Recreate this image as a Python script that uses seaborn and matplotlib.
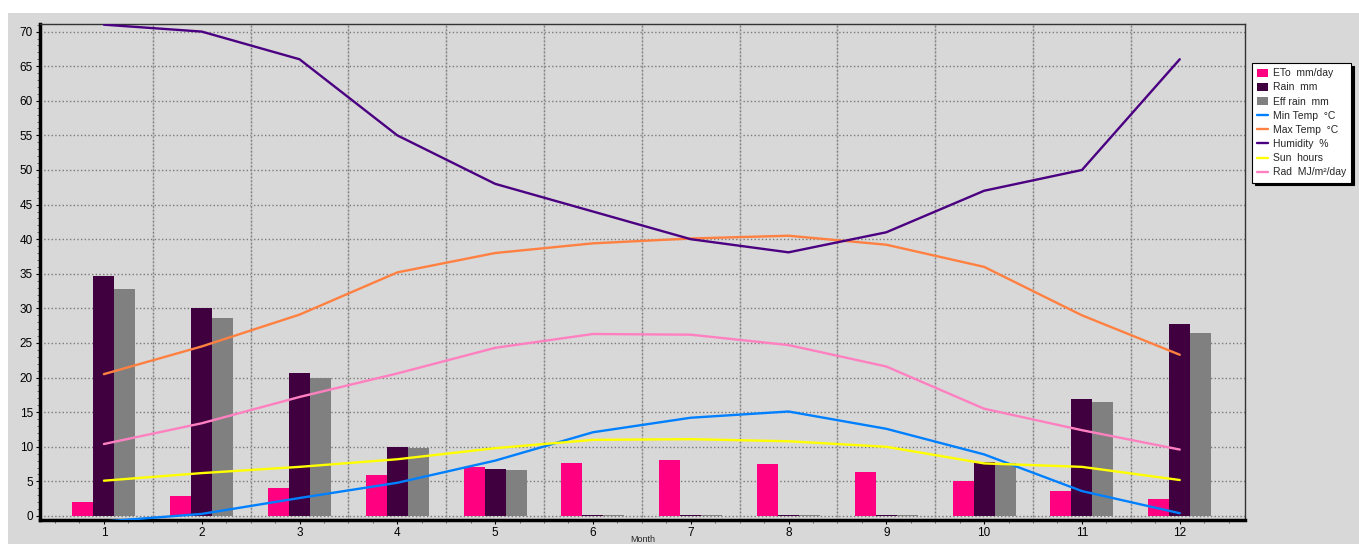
import numpy as np
import pandas as pd
import matplotlib
matplotlib.use("Agg")
import matplotlib.pyplot as plt
from matplotlib.patches import Patch, Rectangle
from matplotlib.lines import Line2D
from matplotlib.ticker import MultipleLocator
import seaborn as sns

# ---- monthly climate data ----
months = [str(m) for m in range(1, 13)]
eto = [2.0, 2.9, 4.0, 5.9, 7.1, 7.7, 8.1, 7.5, 6.4, 5.0, 3.6, 2.5]
rain = [34.7, 30.1, 20.7, 10.0, 6.8, 0.2, 0.2, 0.2, 0.2, 7.8, 16.9, 27.7]
eff_rain = [32.8, 28.6, 19.9, 9.8, 6.6, 0.2, 0.2, 0.2, 0.2, 7.6, 16.5, 26.4]
min_temp = [-0.8, 0.3, 2.6, 4.8, 8.0, 12.1, 14.2, 15.1, 12.6, 8.9, 3.6, 0.4]
max_temp = [20.5, 24.5, 29.1, 35.2, 38.0, 39.4, 40.1, 40.5, 39.2, 36.0, 29.0, 23.3]
humidity = [71.0, 70.0, 66.0, 55.0, 48.0, 44.0, 40.0, 38.1, 41.0, 47.0, 50.0, 66.0]
sun_hours = [5.1, 6.2, 7.1, 8.2, 9.8, 11.0, 11.1, 10.8, 10.0, 7.6, 7.1, 5.2]
radiation = [10.4, 13.4, 17.2, 20.6, 24.3, 26.3, 26.2, 24.7, 21.6, 15.5, 12.4, 9.6]

bar_names = ["ETo  mm/day", "Rain  mm", "Eff rain  mm"]
bar_colors = ["#ff0080", "#400040", "#808080"]
line_names = ["Min Temp  °C", "Max Temp  °C", "Humidity  %", "Sun  hours", "Rad  MJ/m²/day"]
line_colors = ["#0080ff", "#ff8040", "#4b0082", "#ffff00", "#ff80c0"]

bar_df = pd.DataFrame({
    "Month": months * 3,
    "series": [n for n in bar_names for _ in months],
    "value": eto + rain + eff_rain,
})
line_values = [min_temp, max_temp, humidity, sun_hours, radiation]

PANEL = "#d8d8d8"

sns.set_theme(style="ticks")
plt.rcParams["font.family"] = ["Liberation Sans", "DejaVu Sans"]

fig = plt.figure(figsize=(13.59, 5.44), dpi=100)
fig.patch.set_facecolor("white")
fig.add_artist(Rectangle((8 / 1359, 0), 1, (544 - 13) / 544,
                         transform=fig.transFigure, facecolor=PANEL,
                         edgecolor="none", zorder=-10))

ax = fig.add_axes([0.0294, 0.0441, 0.8867, 0.9112])
ax.set_facecolor(PANEL)

sns.barplot(data=bar_df, x="Month", y="value", hue="series",
            hue_order=bar_names, order=months, palette=bar_colors,
            saturation=1, width=0.645, errorbar=None, legend=False,
            linewidth=0, ax=ax, zorder=2)

idx = np.arange(len(months))
for vals, col in zip(line_values, line_colors):
    sns.lineplot(x=idx, y=vals, color=col, linewidth=1.7, ax=ax, zorder=3)

ax.set_xlim(-0.654, 11.667)
ax.set_ylim(-0.58, 71.05)

# grid: dotted horizontal lines every 5, vertical lines between months
ax.yaxis.set_major_locator(MultipleLocator(5))
ax.yaxis.set_minor_locator(MultipleLocator(1))
ax.grid(axis="y", which="major", linestyle=":", color="#7a7a7a", linewidth=1.0, zorder=1)
ax.grid(axis="x", which="both", visible=False)
for b in idx[:-1] + 0.5:
    ax.axvline(b, color="#bdbdbd", linewidth=1.0, zorder=0.9)
    ax.axvline(b, color="#7a7a7a", linewidth=1.0, linestyle=":", zorder=1)
ax.set_axisbelow(True)

ax.set_xticks(idx)
ax.set_xticklabels(months)
ax.set_xticks(np.arange(-0.5, 11.6, 0.25), minor=True)

ax.tick_params(axis="both", which="major", labelsize=8.5, colors="black", length=3, width=0.8, pad=2)
ax.tick_params(axis="x", which="major", pad=2)
ax.tick_params(axis="both", which="minor", length=2, width=0.6, color="#555555")

for side in ("left", "bottom"):
    ax.spines[side].set_linewidth(2.5)
    ax.spines[side].set_color("black")
for side in ("top", "right"):
    ax.spines[side].set_linewidth(1.0)
    ax.spines[side].set_color("#333333")

ax.set_ylabel("")
ax.set_xlabel("Month", fontsize=6.5, labelpad=-2.5)

handles = [Patch(facecolor=c, edgecolor="none") for c in bar_colors]
handles += [Line2D([0], [0], color=c, linewidth=1.7) for c in line_colors]
leg = fig.legend(handles, bar_names + line_names, loc="upper left",
                 bbox_to_anchor=(0.9213, 0.884), fontsize=7.5,
                 frameon=True, fancybox=False, framealpha=1,
                 edgecolor="black", facecolor="white",
                 handlelength=1.0, handleheight=0.8, handletextpad=0.5,
                 labelspacing=0.4, borderpad=0.5, borderaxespad=0,
                 shadow={"color": "black", "alpha": 1})
leg.get_frame().set_linewidth(0.8)

fig.savefig("out.png", dpi=100)
